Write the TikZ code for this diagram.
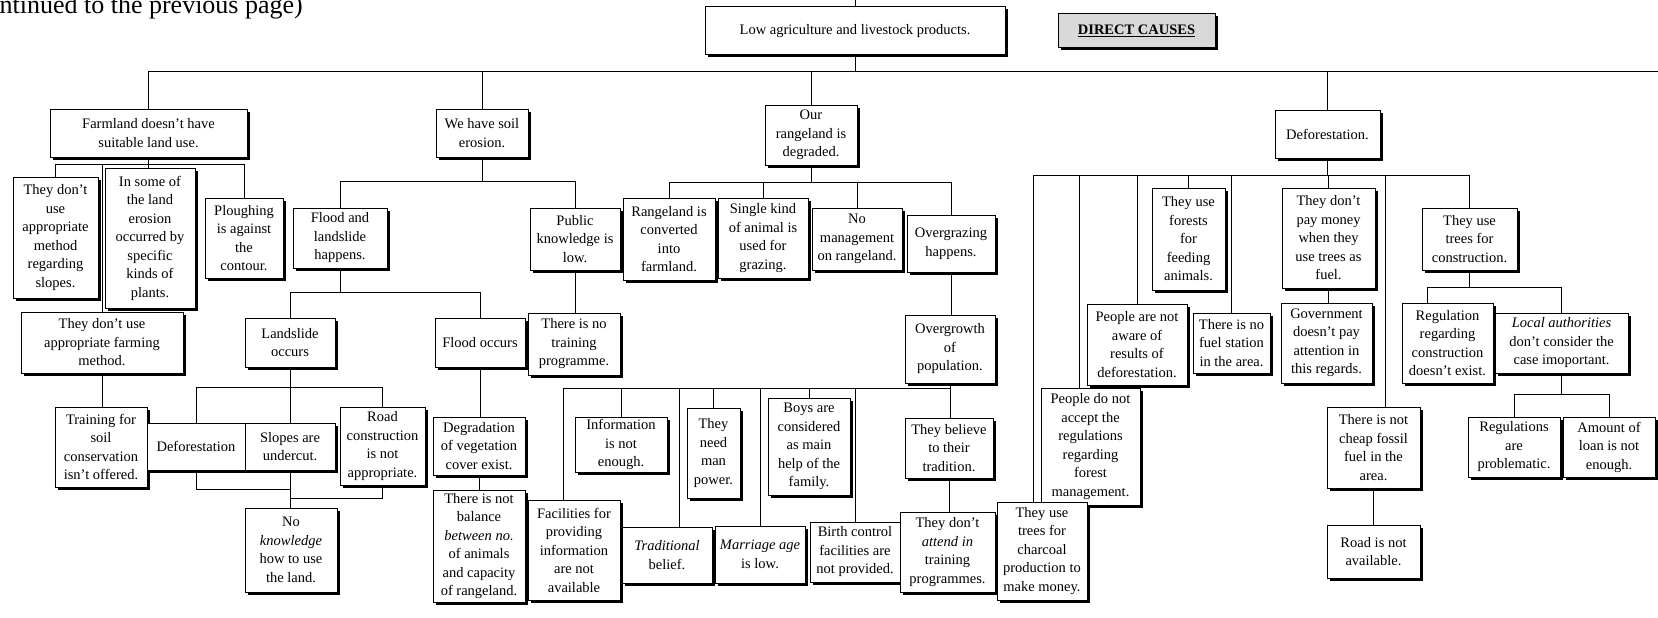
\documentclass[tikz,border=0pt]{standalone}
\usepackage{fontspec}
\setmainfont{Liberation Serif}
\usetikzlibrary{shadows}
\newcommand{\bodyfont}{\fontsize{14.5}{18.5}\selectfont}
% \cbox{name}{x1}{y1}{x2}{y2}{text}: a box spanning the given corners
\newcommand{\cbox}[6]{\node[box, minimum width={#4pt-#2pt}, minimum height={#5pt-#3pt}] (#1) at ({(#2+#4)/2},{(#3+#5)/2}) {#6};}

\begin{document}
\begin{tikzpicture}[x=1pt,y=-1pt,
  box/.style={draw, line width=1pt, fill=white, inner sep=0pt, align=center, font=\bodyfont,
    drop shadow={shadow xshift=2.5pt, shadow yshift=-2.5pt, fill=black, opacity=1}},
  tag/.style={box, fill=gray!30},
  link/.style={line width=0.9pt}]
\useasboundingbox (0,0) rectangle (1658,618);

% page header, cut by the page edge
\node[anchor=base east, inner sep=0pt, font=\fontsize{26}{30}\selectfont] (cont) at (303,14) {(continued to the previous page)};

% ---------- boxes ----------
\cbox{root}{705}{7}{1005}{55}{Low agriculture and livestock products.}
\node[tag, minimum width=157pt, minimum height=34pt] (dc) at (1136.5,31) {\underline{\textbf{DIRECT CAUSES}}};

\cbox{farm}{50}{109}{247}{157}{Farmland doesn't have\\suitable land use.}
\cbox{soil}{436}{109}{528}{157}{We have soil\\erosion.}
\cbox{range}{765}{105}{857}{165}{Our\\rangeland is\\degraded.}
\cbox{defo}{1275}{110}{1380}{158}{Deforestation.}

% farmland branch
\cbox{f1}{13}{177}{98}{298}{They don't\\use\\appropriate\\method\\regarding\\slopes.}
\cbox{f2}{105}{168}{195}{308}{In some of\\the land\\erosion\\occurred by\\specific\\kinds of\\plants.}
\cbox{f3}{205}{198}{283}{278}{Ploughing\\is against\\the\\contour.}
\cbox{f4}{21}{312}{183}{373}{They don't use\\appropriate farming\\method.}
\cbox{f5}{55}{407}{147}{487}{Training for\\soil\\conservation\\isn't offered.}

% soil erosion branch
\cbox{s1}{293}{208}{387}{268}{Flood and\\landslide\\happens.}
\cbox{s2}{530}{208}{620}{270}{Public\\knowledge is\\low.}
\cbox{s3}{245}{318}{335}{367}{Landslide\\occurs}
\cbox{s4}{435}{318}{525}{367}{Flood occurs}
\cbox{s5}{528}{313}{620}{375}{There is no\\training\\programme.}
\cbox{s6}{147}{423}{245}{470}{Deforestation}
\cbox{s7}{245}{423}{335}{470}{Slopes are\\undercut.}
\cbox{s8}{340}{407}{425}{485}{Road\\construction\\is not\\appropriate.}
\cbox{s9}{245}{508}{337}{592}{No\\\textit{knowledge}\\how to use\\the land.}
\cbox{s10}{433}{417}{525}{475}{Degradation\\of vegetation\\cover exist.}
\cbox{s11}{433}{490}{525}{602}{There is not\\balance\\\textit{between no.}\\of animals\\and capacity\\of rangeland.}

% rangeland branch
\cbox{r1}{623}{198}{715}{280}{Rangeland is\\converted\\into\\farmland.}
\cbox{r2}{718}{198}{808}{278}{Single kind\\of animal is\\used for\\grazing.}
\cbox{r3}{812}{208}{902}{270}{No\\management\\on rangeland.}
\cbox{r4}{907}{215}{995}{272}{Overgrazing\\happens.}
\cbox{r5}{905}{315}{995}{383}{Overgrowth\\of\\population.}
\cbox{r6}{528}{500}{620}{600}{Facilities for\\providing\\information\\are not\\available}
\cbox{r7}{575}{417}{667}{472}{Information\\is not\\enough.}
\cbox{r8}{622}{527}{712}{583}{\textit{Traditional}\\belief.}
\cbox{r9}{687}{408}{740}{498}{They\\need\\man\\power.}
\cbox{r10}{715}{526}{805}{583}{\textit{Marriage age}\\is low.}
\cbox{r11}{768}{398}{850}{495}{Boys are\\considered\\as main\\help of the\\family.}
\cbox{r12}{810}{522}{900}{582}{Birth control\\facilities are\\not provided.}
\cbox{r13}{905}{418}{993}{478}{They believe\\to their\\tradition.}
\cbox{r14}{900}{512}{995}{592}{They don't\\\textit{attend in}\\training\\programmes.}

% deforestation branch
\cbox{d2}{1041}{388}{1140}{505}{People do not\\accept the\\regulations\\regarding\\forest\\management.}
\cbox{d1}{997}{502}{1087}{600}{They use\\trees for\\charcoal\\production to\\make money.}
\cbox{d3}{1087}{304}{1187}{385}{People are not\\aware of\\results of\\deforestation.}
\cbox{d4}{1152}{188}{1225}{290}{They use\\forests\\for\\feeding\\animals.}
\cbox{d5}{1193}{313}{1270}{373}{There is no\\fuel station\\in the area.}
\cbox{d6}{1282}{188}{1375}{288}{They don't\\pay money\\when they\\use trees as\\fuel.}
\cbox{d7}{1281}{303}{1372}{383}{Government\\doesn't pay\\attention in\\this regards.}
\cbox{d8}{1327}{407}{1420}{488}{There is not\\cheap fossil\\fuel in the\\area.}
\cbox{d9}{1327}{525}{1420}{578}{Road is not\\available.}
\cbox{d10}{1422}{208}{1517}{270}{They use\\trees for\\construction.}
\cbox{d11}{1402}{303}{1493}{383}{Regulation\\regarding\\construction\\doesn't exist.}
\cbox{d12}{1495}{313}{1628}{373}{\textit{Local authorities}\\don't consider the\\case imoportant.}
\cbox{d13}{1468}{417}{1560}{477}{Regulations\\are\\problematic.}
\cbox{d14}{1563}{417}{1655}{477}{Amount of\\loan is not\\enough.}

% ---------- connectors ----------
\coordinate (top) at (855,0);
\draw[link] (root.north) -- (root.north |- top);
\coordinate (mb) at (148.5,71);
\coordinate (mbEnd) at (1658,71);
\draw[link] (mb) -- (mbEnd);
\draw[link] (root.south) -- (root.south |- mb);
\foreach \n in {farm,soil,range,defo} \draw[link] (\n.north) -- (\n.north |- mb);

% farmland
\coordinate (fb) at (0,164);
\draw[link] (f1.north |- fb) -- (f3.north |- fb);
\draw[link] (farm.south) -- (farm.south |- f2.north);
\foreach \n in {f1,f3,f4} \draw[link] (\n.north) -- (\n.north |- fb);
\draw[link] (f4.south) -- (f4.south |- f5.north);

% soil erosion
\coordinate (sb) at (0,181);
\draw[link] (s1.north |- sb) -- (s2.north |- sb);
\draw[link] (soil.south) -- (soil.south |- sb);
\foreach \n in {s1,s2} \draw[link] (\n.north) -- (\n.north |- sb);
\coordinate (lb1) at (0,292);
\draw[link] (s3.north |- lb1) -- (s4.north |- lb1);
\draw[link] (s1.south) -- (s1.south |- lb1);
\foreach \n in {s3,s4} \draw[link] (\n.north) -- (\n.north |- lb1);
\coordinate (lb2) at (0,387);
\draw[link] (s6.north |- lb2) -- (s8.north |- lb2);
\draw[link] (s3.south) -- (s3.south |- lb2);
\foreach \n in {s6,s7,s8} \draw[link] (\n.north) -- (\n.north |- lb2);
\coordinate (j1) at (0,489);
\coordinate (j2) at (0,498);
\draw[link] (s6.south) |- (s7.south |- j1);
\draw[link] (s8.south) |- (s7.south |- j2);
\draw[link] (s7.south) -- (s7.south |- s9.north);
\draw[link] (s4.south) -- (s4.south |- s10.north);
\draw[link] (s10.south) -- (s10.south |- s11.north);
\draw[link] (s2.south) -- (s2.south |- s5.north);

% rangeland
\coordinate (rb) at (0,182);
\draw[link] (r1.north |- rb) -- (r4.north |- rb);
\draw[link] (range.south) -- (range.south |- rb);
\foreach \n in {r1,r2,r3,r4} \draw[link] (\n.north) -- (\n.north |- rb);
\draw[link] (r4.south) -- (r4.south |- r5.north);
\coordinate (ob) at (563,388);
\coordinate (ob8) at (679,388);
\draw[link] (ob) -- (r5.south |- ob);
\draw[link] (r5.south) -- (r5.south |- r13.north);
\draw[link] (ob) -- (ob |- r6.north);
\draw[link] (ob8) -- (ob8 |- r8.north);
\foreach \n in {r7,r9,r10,r11,r12} \draw[link] (\n.north) -- (\n.north |- ob);
\draw[link] (r13.south) -- (r13.south |- r14.north);

% deforestation
\coordinate (db) at (1033,175);
\coordinate (db2) at (1079,175);
\coordinate (db8) at (1385,175);
\draw[link] (db) -- (d10.north |- db);
\draw[link] (defo.south) -- (defo.south |- db);
\draw[link] (db) -- (db |- d1.north);
\draw[link] (db2) -- (db2 |- d2.north);
\draw[link] (db8) -- (db8 |- d8.north);
\foreach \n in {d3,d4,d5,d6,d10} \draw[link] (\n.north) -- (\n.north |- db);
\draw[link] (d6.south) -- (d6.south |- d7.north);
\draw[link] (d8.south) -- (d8.south |- d9.north);
\coordinate (cb) at (1427,287);
\draw[link] (cb) -- (d12.north |- cb);
\draw[link] (d10.south) -- (d10.south |- cb);
\draw[link] (cb) -- (cb |- d11.north);
\draw[link] (d12.north) -- (d12.north |- cb);
\coordinate (ab) at (0,394);
\draw[link] (d13.north |- ab) -- (d14.north |- ab);
\draw[link] (d12.south) -- (d12.south |- ab);
\foreach \n in {d13,d14} \draw[link] (\n.north) -- (\n.north |- ab);
\end{tikzpicture}
\end{document}
